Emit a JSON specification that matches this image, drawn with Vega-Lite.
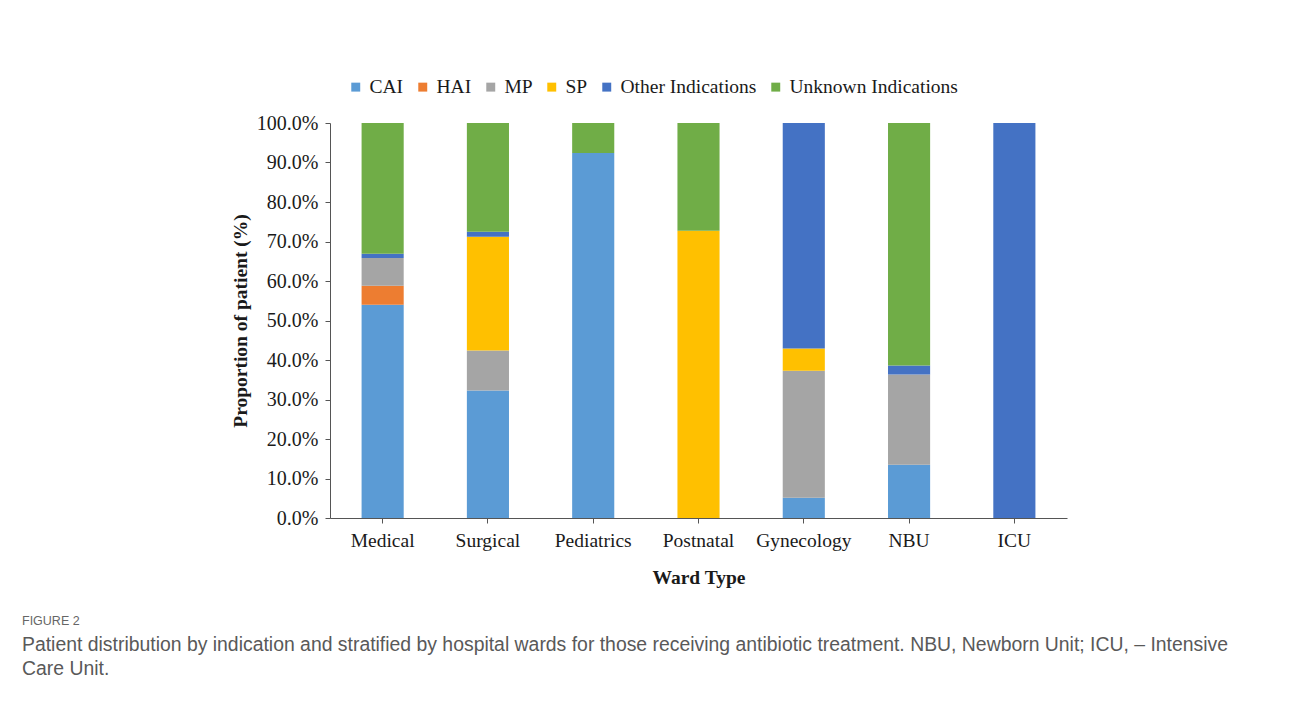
{
  "$schema": "https://vega.github.io/schema/vega-lite/v6.json",
  "autosize": {"type": "none"},
  "width": 737,
  "height": 395,
  "padding": {"left": 330, "top": 123, "right": 222, "bottom": 184},
  "background": "white",
  "title": {
    "text": "FIGURE 2",
    "subtitle": ["Patient distribution by indication and stratified by hospital wards for those receiving antibiotic treatment. NBU, Newborn Unit; ICU, – Intensive", "Care Unit."],
    "orient": "bottom",
    "anchor": "start",
    "frame": "group",
    "dx": -308,
    "offset": 28,
    "font": "Liberation Sans",
    "fontSize": 12.5,
    "fontWeight": "normal",
    "color": "#666666",
    "subtitleFont": "Liberation Sans",
    "subtitleFontSize": 19.4,
    "subtitleColor": "#595959",
    "subtitleLineHeight": 24,
    "subtitlePadding": 8
  },
  "data": {
    "values": [
      {"ward": "Medical", "ind": "CAI", "pct": 54.0},
      {"ward": "Medical", "ind": "HAI", "pct": 4.8},
      {"ward": "Medical", "ind": "MP", "pct": 7.0},
      {"ward": "Medical", "ind": "Other Indications", "pct": 1.1},
      {"ward": "Medical", "ind": "Unknown Indications", "pct": 33.1},
      {"ward": "Surgical", "ind": "CAI", "pct": 32.3},
      {"ward": "Surgical", "ind": "MP", "pct": 10.1},
      {"ward": "Surgical", "ind": "SP", "pct": 28.8},
      {"ward": "Surgical", "ind": "Other Indications", "pct": 1.3},
      {"ward": "Surgical", "ind": "Unknown Indications", "pct": 27.5},
      {"ward": "Pediatrics", "ind": "CAI", "pct": 92.4},
      {"ward": "Pediatrics", "ind": "Unknown Indications", "pct": 7.6},
      {"ward": "Postnatal", "ind": "SP", "pct": 72.7},
      {"ward": "Postnatal", "ind": "Unknown Indications", "pct": 27.3},
      {"ward": "Gynecology", "ind": "CAI", "pct": 5.1},
      {"ward": "Gynecology", "ind": "MP", "pct": 32.2},
      {"ward": "Gynecology", "ind": "SP", "pct": 5.6},
      {"ward": "Gynecology", "ind": "Other Indications", "pct": 57.1},
      {"ward": "NBU", "ind": "CAI", "pct": 13.5},
      {"ward": "NBU", "ind": "MP", "pct": 22.8},
      {"ward": "NBU", "ind": "Other Indications", "pct": 2.3},
      {"ward": "NBU", "ind": "Unknown Indications", "pct": 61.4},
      {"ward": "ICU", "ind": "Other Indications", "pct": 100.0}
    ]
  },
  "transform": [
    {"calculate": "indexof(['CAI','HAI','MP','SP','Other Indications','Unknown Indications'], datum.ind)", "as": "k"}
  ],
  "mark": {"type": "bar"},
  "encoding": {
    "x": {
      "field": "ward",
      "type": "nominal",
      "sort": ["Medical", "Surgical", "Pediatrics", "Postnatal", "Gynecology", "NBU", "ICU"],
      "scale": {"paddingInner": 0.6, "paddingOuter": 0.3},
      "axis": {
        "title": "Ward Type",
        "labelAngle": 0,
        "labelFont": "Liberation Serif",
        "labelFontSize": 19.5,
        "labelColor": "#1a1a1a",
        "labelPadding": 8,
        "titleFont": "Liberation Serif",
        "titleFontSize": 19.5,
        "titleFontWeight": "bold",
        "titleColor": "#1a1a1a",
        "titlePadding": 19,
        "domainColor": "#555555",
        "tickColor": "#555555",
        "tickSize": 5
      }
    },
    "y": {
      "field": "pct",
      "type": "quantitative",
      "stack": "zero",
      "scale": {"domain": [0, 100]},
      "axis": {
        "title": "Proportion of patient (%)",
        "values": [0, 10, 20, 30, 40, 50, 60, 70, 80, 90, 100],
        "labelExpr": "format(datum.value, '.1f') + '%'",
        "grid": false,
        "labelFont": "Liberation Serif",
        "labelFontSize": 20,
        "labelColor": "#1a1a1a",
        "labelPadding": 7,
        "titleFont": "Liberation Serif",
        "titleFontSize": 19.5,
        "titleFontWeight": "bold",
        "titleColor": "#1a1a1a",
        "titlePadding": 6,
        "domainColor": "#555555",
        "tickColor": "#555555",
        "tickSize": 5
      }
    },
    "color": {
      "field": "ind",
      "type": "nominal",
      "scale": {
        "domain": ["CAI", "HAI", "MP", "SP", "Other Indications", "Unknown Indications"],
        "range": ["#5B9BD5", "#ED7D31", "#A5A5A5", "#FFC000", "#4472C4", "#70AD47"]
      },
      "legend": {
        "title": null,
        "orient": "none",
        "direction": "horizontal",
        "legendX": 16,
        "legendY": -46,
        "symbolType": "square",
        "symbolSize": 80,
        "symbolStrokeWidth": 0,
        "labelFont": "Liberation Serif",
        "labelFontSize": 19.5,
        "labelColor": "#1a1a1a",
        "labelLimit": 400,
        "labelOffset": 4,
        "columnPadding": 9
      }
    },
    "order": {"field": "k", "type": "quantitative"}
  },
  "config": {
    "view": {"stroke": null}
  }
}
